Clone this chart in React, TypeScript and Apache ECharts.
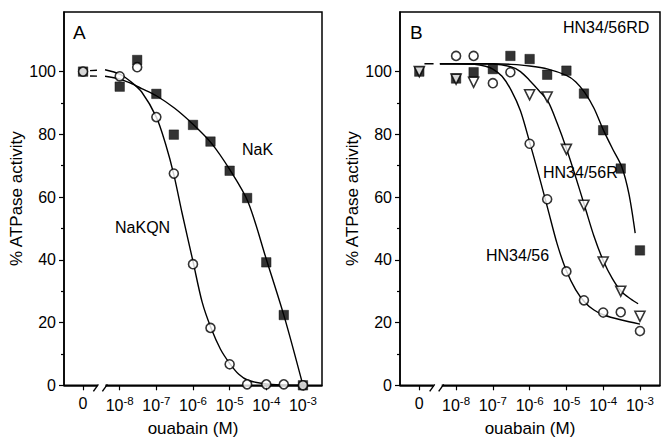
import React, { useEffect, useRef } from 'react';
import * as echarts from 'echarts';

const FONT = '"Liberation Sans", Arial, Helvetica, sans-serif';

// x axis: log10 of the ouabain concentration; -9 stands for the "0" (no ouabain) point
const X_TICK_VALUES = [-9, -8, -7, -6, -5, -4, -3];
const X_TICK_BASES = ['0', '10', '10', '10', '10', '10', '10'];
const X_TICK_EXPONENTS = ['', '-8', '-7', '-6', '-5', '-4', '-3'];
const Y_TICK_VALUES = [0, 20, 40, 60, 80, 100];
const Y_MINOR_TICK_VALUES = [10, 30, 50, 70, 90];

// ---------- panel A ----------
const DOSE_A = [-9, -8, -7.523, -7, -6.523, -6, -5.523, -5, -4.523, -4, -3.523, -3];
const NAK = [100, 95.2, 103.7, 92.9, 79.9, 83.0, 77.7, 68.4, 59.7, 39.2, 22.4, 0];
const NAKQN = [100, 98.5, 101.4, 85.5, 67.5, 38.6, 18.3, 6.7, 0.3, 0.3, 0.3, 0];

const NAK_FIT_X = [-8.4, -8.0, -7.72, -7.4, -7.0, -6.5, -6.0, -5.5, -5.0, -4.5, -4.0, -3.5, -3.0];
const NAK_FIT_Y = [98.5, 97.6, 96.4, 94.6, 92.3, 88.3, 83.2, 77.2, 68.8, 58.5, 40.2, 21.5, 0];
const NAKQN_FIT_X = [-8.4, -8.0, -7.72, -7.4, -7.0, -6.75, -6.52, -6.3, -6.0, -5.75, -5.5, -5.25, -5.0, -4.75, -4.5, -4.0, -3.5, -3.0];
const NAKQN_FIT_Y = [100.6, 99.2, 97.0, 93.5, 85.5, 77, 67, 55, 39.5, 26.5, 18, 11.5, 7, 3.5, 1.6, 0.4, 0.1, 0];
const NAK_DASH_X = [-8.81, -8.4];
const NAK_DASH_Y = [98.6, 98.5];
const NAKQN_DASH_X = [-8.81, -8.4];
const NAKQN_DASH_Y = [100.3, 100.6];

// ---------- panel B ----------
const DOSE_RD = [-9, -8, -7.523, -7, -6.523, -6, -5.523, -5, -4.523, -4, -3.523, -3];
const HN_RD = [100, 97.8, 99.8, 100.8, 105, 104, 99, 100.3, 93, 81.3, 69.1, 43];
const DOSE_R = [-9, -8, -7.523, -6, -5.523, -5, -4.523, -4, -3.523, -3];
const HN_R = [100, 97.6, 96.6, 92.6, 91.9, 75.2, 57.4, 39.3, 30, 22];
const DOSE_HN = [-8, -7.523, -7, -6.523, -6, -5.523, -5, -4.523, -4, -3.523, -3];
const HN = [105, 105, 96.3, 99.8, 77, 59.3, 36.3, 27.1, 23.2, 23.3, 17.3];

const HN_FIT_X = [-8.44, -8.0, -7.5, -7.2, -7.0, -6.75, -6.5, -6.25, -6.0, -5.75, -5.5, -5.25, -5.0, -4.75, -4.5, -4.25, -4.0, -3.5, -3.0];
const HN_FIT_Y = [102.5, 102.5, 102.3, 101.7, 100.8, 98.5, 94, 87.5, 77.5, 67, 56, 45, 36.5, 30.5, 26.5, 24, 22.5, 20.8, 19.5];
const HN_R_FIT_X = [-8.44, -7.0, -6.5, -6.25, -6.0, -5.75, -5.5, -5.25, -5.0, -4.75, -4.5, -4.25, -4.0, -3.75, -3.5, -3.25, -3.05];
const HN_R_FIT_Y = [102.5, 102.4, 101.5, 100, 97.2, 94, 90.5, 83.5, 75.5, 66.5, 57, 47.5, 39.8, 34, 29.8, 27.5, 26];
const HN_RD_FIT_X = [-8.44, -7.0, -6.5, -6.0, -5.5, -5.0, -4.75, -4.5, -4.25, -4.0, -3.75, -3.5, -3.3, -3.13];
const HN_RD_FIT_Y = [102.5, 102.5, 102.3, 101.8, 100.8, 98.8, 96.8, 93.3, 88.3, 81.5, 75.5, 69.8, 61, 48.5];
const B_DASH_X = [-8.86, -8.44];
const B_DASH_Y = [102.5, 102.5];

const zip = (xs: number[], ys: number[]) => xs.map((x, i) => [x, ys[i]]);

function xAxisFor(gridIndex: number, min: number, max: number) {
  return {
    type: 'value',
    gridIndex,
    min,
    max,
    name: 'ouabain (M)',
    nameLocation: 'middle',
    nameGap: 35,
    nameTextStyle: { fontFamily: FONT, fontSize: 17, color: '#000' },
    axisLine: { show: true, lineStyle: { color: '#000', width: 1.5 } },
    axisTick: { show: true, inside: false, length: 5, customValues: X_TICK_VALUES, lineStyle: { color: '#000', width: 1.2 } },
    axisLabel: {
      show: true,
      customValues: X_TICK_VALUES,
      margin: 10,
      color: '#000',
      formatter: (v: number) => {
        const i = X_TICK_VALUES.indexOf(Math.round(v));
        if (i < 0) return '';
        const e = X_TICK_EXPONENTS[i];
        return e ? `{b|${X_TICK_BASES[i]}}{s|${e}}` : `{b|${X_TICK_BASES[i]}}`;
      },
      rich: {
        b: { fontFamily: FONT, fontSize: 16, color: '#000' },
        s: { fontFamily: FONT, fontSize: 11.5, color: '#000', padding: [0, 0, 8, 0] },
      },
    },
    splitLine: { show: false },
  };
}

function yAxesFor(gridIndex: number) {
  return [
    {
      type: 'value',
      gridIndex,
      min: 0,
      max: 119,
      name: '% ATPase activity',
      nameLocation: 'middle',
      nameGap: 35,
      nameTextStyle: { fontFamily: FONT, fontSize: 17, color: '#000' },
      axisLine: { show: true, lineStyle: { color: '#000', width: 1.5 } },
      axisTick: { show: true, length: 5, customValues: Y_TICK_VALUES, lineStyle: { color: '#000', width: 1.2 } },
      axisLabel: { show: true, customValues: Y_TICK_VALUES, margin: 8, fontFamily: FONT, fontSize: 16, color: '#000' },
      splitLine: { show: false },
    },
    {
      type: 'value',
      gridIndex,
      min: 0,
      max: 119,
      position: 'left',
      axisLine: { show: false },
      axisTick: { show: true, length: 3, customValues: Y_MINOR_TICK_VALUES, lineStyle: { color: '#000', width: 1.2 } },
      axisLabel: { show: false },
      splitLine: { show: false },
    },
  ];
}

const lineSeries = (xAxisIndex: number, yAxisIndex: number, xs: number[], ys: number[], dash?: number[]) => ({
  type: 'line',
  xAxisIndex,
  yAxisIndex,
  data: zip(xs, ys),
  smooth: 0.3,
  showSymbol: false,
  silent: true,
  z: 2,
  lineStyle: { color: '#000', width: 1.4, type: dash ? dash : 'solid' },
});

const scatterSeries = (
  xAxisIndex: number,
  yAxisIndex: number,
  xs: number[],
  ys: number[],
  symbol: string,
  filled: boolean,
  size: number,
  z: number,
  rotate = 0,
) => ({
  type: 'scatter',
  xAxisIndex,
  yAxisIndex,
  data: zip(xs, ys),
  symbol,
  symbolSize: size,
  symbolRotate: rotate,
  z,
  itemStyle: filled
    ? { color: '#000', borderColor: '#000', borderWidth: 0.5 }
    : { color: '#fff', borderColor: '#000', borderWidth: 1.6 },
});

export default function App() {
  const ref = useRef<HTMLDivElement>(null);

  useEffect(() => {
    if (!ref.current) return;
    const chart = echarts.init(ref.current, null, { renderer: 'svg' });
    const option: any = {
      animation: false,
      backgroundColor: '#fff',
      textStyle: { fontFamily: FONT },
      grid: [
        { left: 64, top: 12, width: 258, height: 373.3, show: true, borderColor: '#000', borderWidth: 1.5, backgroundColor: 'transparent' },
        { left: 400, top: 12, width: 260, height: 373.3, show: true, borderColor: '#000', borderWidth: 1.5, backgroundColor: 'transparent' },
      ],
      xAxis: [xAxisFor(0, -9.52, -2.48), xAxisFor(1, -9.525, -2.455)],
      yAxis: [...yAxesFor(0), ...yAxesFor(1)],
      series: [
        // panel A
        lineSeries(0, 0, NAK_DASH_X, NAK_DASH_Y, [7, 8]),
        lineSeries(0, 0, NAKQN_DASH_X, NAKQN_DASH_Y, [7, 8]),
        lineSeries(0, 0, NAK_FIT_X, NAK_FIT_Y),
        lineSeries(0, 0, NAKQN_FIT_X, NAKQN_FIT_Y),
        scatterSeries(0, 0, DOSE_A, NAK, 'rect', true, 9.5, 5),
        scatterSeries(0, 0, DOSE_A, NAKQN, 'circle', false, 9, 6),
        // panel B
        lineSeries(1, 2, B_DASH_X, B_DASH_Y, [9, 7]),
        lineSeries(1, 2, HN_FIT_X, HN_FIT_Y),
        lineSeries(1, 2, HN_R_FIT_X, HN_R_FIT_Y),
        lineSeries(1, 2, HN_RD_FIT_X, HN_RD_FIT_Y),
        scatterSeries(1, 2, DOSE_RD, HN_RD, 'rect', true, 9.5, 5),
        scatterSeries(1, 2, DOSE_R, HN_R, 'triangle', false, 10, 6, 180),
        scatterSeries(1, 2, DOSE_HN, HN, 'circle', false, 9, 7),
      ],
    };
    chart.setOption(option);

    // axis breaks and panel annotations
    const graphics: any[] = [];
    const breakAt = -8.5;
    [0, 1].forEach((g) => {
      const p = chart.convertToPixel({ xAxisIndex: g, yAxisIndex: g * 2 } as any, [breakAt, 0]) as number[];
      const cx = p[0];
      const cy = p[1];
      graphics.push({ type: 'rect', z: 100, shape: { x: cx - 4, y: cy - 2.5, width: 8, height: 5 }, style: { fill: '#fff' } });
      graphics.push({ type: 'line', z: 101, shape: { x1: cx - 8, y1: cy + 6, x2: cx - 3, y2: cy - 1 }, style: { stroke: '#000', lineWidth: 1.4 } });
      graphics.push({ type: 'line', z: 101, shape: { x1: cx + 1, y1: cy + 6, x2: cx + 6, y2: cy - 1 }, style: { stroke: '#000', lineWidth: 1.4 } });
    });
    const label = (text: string, x: number, y: number, size: number) => ({
      type: 'text',
      z: 102,
      x,
      y,
      style: { text, font: `${size}px ${FONT}`, fill: '#000', verticalAlign: 'middle', align: 'left' },
    });
    graphics.push(label('A', 73, 32, 19));
    graphics.push(label('B', 410, 32, 19));
    graphics.push(label('NaK', 242, 149, 16));
    graphics.push(label('NaKQN', 115, 227, 16));
    graphics.push(label('HN34/56RD', 563, 27, 16));
    graphics.push(label('HN34/56R', 543, 172.5, 16));
    graphics.push(label('HN34/56', 486, 255, 16));
    chart.setOption({ graphic: graphics });

    return () => chart.dispose();
  }, []);

  return <div ref={ref} style={{ position: 'fixed', left: 0, top: 0, width: 670, height: 443, background: '#fff' }} />;
}
